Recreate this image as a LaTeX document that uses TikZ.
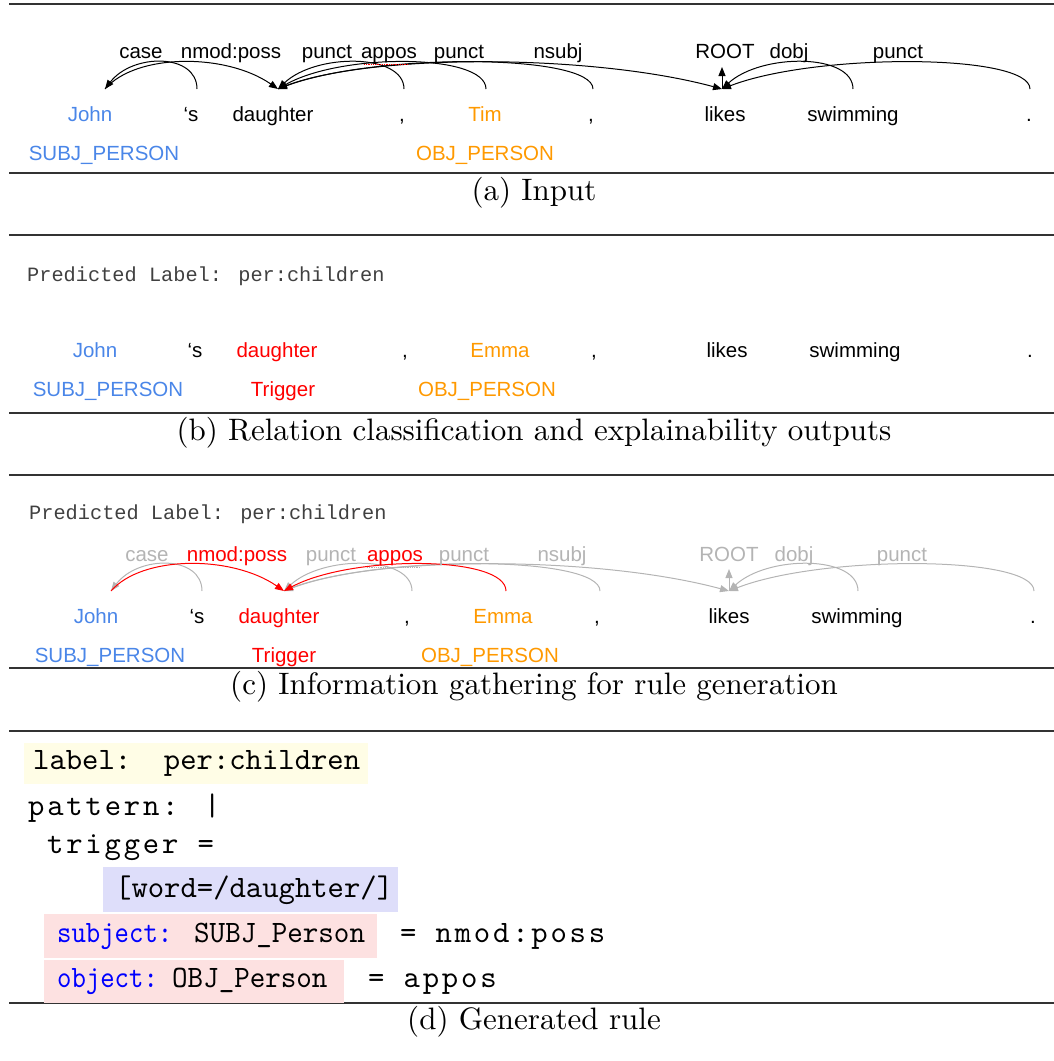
\documentclass[tikz,border=0pt]{standalone}
\usepackage{fontspec}
\usepackage{graphicx}
\usetikzlibrary{arrows.meta,calc}
\newfontfamily\arialfont{Liberation Sans}
\newfontfamily\courfont{Liberation Mono}
\newfontfamily\spacedtt[LetterSpace=9]{Latin Modern Mono}
\definecolor{subjblue}{HTML}{4A86E8}
\definecolor{objorange}{HTML}{FF9900}
\definecolor{trigred}{HTML}{FF0000}
\definecolor{arcgray}{HTML}{B4B4B4}
\definecolor{labelyellow}{HTML}{FFFDE6}
\definecolor{patblue}{HTML}{DEDEFA}
\definecolor{rolepink}{HTML}{FDE1E1}
\definecolor{rulegray}{HTML}{333333}

% leftward dependency arc: rises vertically from the dependent, lands on the head
\newcommand\deparc[3][]{\draw[arc,#1] (#2) .. controls ($(#2)+(0,-36)$) and ($(#3)!0.3!(#2)+(0,-36)$) .. (#3);}
% rightward dependency arc: both ends slanted
\newcommand\deparcR[3][]{\draw[arc,#1] (#2) .. controls ($(#2)!0.18!(#3)+(0,-36)$) and ($(#3)!0.3!(#2)+(0,-36)$) .. (#3);}
% caption and code text, set at 10pt and enlarged
\newcommand\capt[1]{\scalebox{3.1}{\fontsize{10}{12}\selectfont #1}}
\newcommand\codett[1]{\scalebox{3.114}{\fontsize{10}{12}\selectfont\ttfamily #1}}
\newcommand\codesp[1]{\scalebox{3.114}{\fontsize{10}{12}\selectfont\spacedtt #1}}

\begin{document}
\begin{tikzpicture}[x=1pt,y=-1pt,
  word/.style={font=\arialfont\fontsize{20.5}{24}\selectfont, anchor=base, inner sep=0pt},
  deplabel/.style={word},
  caption/.style={anchor=base, inner sep=0pt},
  predlabel/.style={font=\courfont\fontsize{20.3}{24}\selectfont, anchor=base west, inner sep=0pt, text=black!75},
  rulerow/.style={line width=1.3pt, draw=rulegray},
  arc/.style={line width=1pt, -{Triangle[length=9pt,width=7pt]}},
  code/.style={anchor=base west, inner sep=0pt}
]
\useasboundingbox (0,0) rectangle (1054,1061);

% ---------- horizontal rules ----------
\foreach \yy in {4,173,235,413,475,668,731,1003}
  \draw[rulerow] (9,\yy) -- (1054,\yy);

% ================= (a) Input =================
\node[word] (aw1) at (90,121) {\textcolor{subjblue}{John}};
\node[word] (aw2) at (191,121) {‘s};
\node[word] (aw3) at (273,121) {daughter};
\node[word] (aw4) at (402,121) {,};
\node[word] (aw5) at (485,121) {\textcolor{objorange}{Tim}};
\node[word] (aw6) at (591,121) {,};
\node[word] (aw7) at (725,121) {likes};
\node[word] (aw8) at (853,121) {swimming};
\node[word] (aw9) at (1029,121) {.};
\node[word, text=subjblue] (aent1) at (104,160) {SUBJ\_PERSON};
\node[word, text=objorange] (aent2) at (485,160) {OBJ\_PERSON};

\coordinate (a-john) at (105,89);
\coordinate (a-s) at (197,89);
\coordinate (a-dau) at (278,89);
\coordinate (a-c1) at (404,89);
\coordinate (a-tim) at (486,89);
\coordinate (a-c2) at (593,89);
\coordinate (a-likes) at (722,89);
\coordinate (a-root) at (722,67);
\coordinate (a-swim) at (853,89);
\coordinate (a-dot) at (1030,89);

\deparc{a-s}{a-john}
\deparcR{a-john}{a-dau}
\deparc{a-c1}{a-dau}
\deparc{a-tim}{a-dau}
\deparc{a-c2}{a-dau}
\deparcR{a-dau}{a-likes}
\deparc{a-swim}{a-likes}
\deparc{a-dot}{a-likes}
\draw[arc] (a-likes) -- (a-root);
\draw[red, densely dotted, line width=0.8pt] (364,64) -- (408,64);

\node[deplabel] (al1) at (141,58) {case};
\node[deplabel] (al2) at (231,58) {nmod:poss};
\node[deplabel] (al3) at (327,58) {punct};
\node[deplabel] (al4) at (389,58) {appos};
\node[deplabel] (al5) at (459,58) {punct};
\node[deplabel] (al6) at (558,58) {nsubj};
\node[deplabel] (al7) at (725,58) {ROOT};
\node[deplabel] (al8) at (789,58) {dobj};
\node[deplabel] (al9) at (898,58) {punct};

\node[caption] (capa) at (534,200) {\capt{(a) Input}};

% ================= (b) Classification output =================
\node[predlabel] (bpred) at (27,281) {Predicted Label: per:children};
\node[word] (bw1) at (95,357) {\textcolor{subjblue}{John}};
\node[word] (bw2) at (195,357) {‘s};
\node[word] (bw3) at (277,357) {\textcolor{trigred}{daughter}};
\node[word] (bw4) at (405,357) {,};
\node[word] (bw5) at (500,357) {\textcolor{objorange}{Emma}};
\node[word] (bw6) at (594,357) {,};
\node[word] (bw7) at (727,357) {likes};
\node[word] (bw8) at (855,357) {swimming};
\node[word] (bw9) at (1030,357) {.};
\node[word, text=subjblue] (bent1) at (108,396) {SUBJ\_PERSON};
\node[word, text=trigred] (bent2) at (283,396) {Trigger};
\node[word, text=objorange] (bent3) at (487,396) {OBJ\_PERSON};

\node[caption] (capb) at (534,440) {\capt{(b) Relation classification and explainability outputs}};

% ================= (c) Information gathering =================
\node[predlabel] (cpred) at (29,519) {Predicted Label: per:children};
\node[word] (cw1) at (96,623) {\textcolor{subjblue}{John}};
\node[word] (cw2) at (197,623) {‘s};
\node[word] (cw3) at (279,623) {\textcolor{trigred}{daughter}};
\node[word] (cw4) at (407,623) {,};
\node[word] (cw5) at (503,623) {\textcolor{objorange}{Emma}};
\node[word] (cw6) at (597,623) {,};
\node[word] (cw7) at (729,623) {likes};
\node[word] (cw8) at (857,623) {swimming};
\node[word] (cw9) at (1033,623) {.};
\node[word, text=subjblue] (cent1) at (110,662) {SUBJ\_PERSON};
\node[word, text=trigred] (cent2) at (284,662) {Trigger};
\node[word, text=objorange] (cent3) at (490,662) {OBJ\_PERSON};

\coordinate (c-john) at (111,591);
\coordinate (c-s) at (202,591);
\coordinate (c-dau) at (284,591);
\coordinate (c-c1) at (412,591);
\coordinate (c-emma) at (506,591);
\coordinate (c-c2) at (600,591);
\coordinate (c-likes) at (729,591);
\coordinate (c-root) at (729,569);
\coordinate (c-swim) at (858,591);
\coordinate (c-dot) at (1034,591);

\deparc[arcgray]{c-s}{c-john}
\deparc[arcgray]{c-c1}{c-dau}
\deparc[arcgray]{c-c2}{c-dau}
\deparcR[arcgray]{c-dau}{c-likes}
\deparc[arcgray]{c-swim}{c-likes}
\deparc[arcgray]{c-dot}{c-likes}
\draw[arc, arcgray] (c-likes) -- (c-root);
\draw[arcgray, densely dotted, line width=0.8pt] (367,567) -- (421,567);
\deparcR[trigred]{c-john}{c-dau}
\deparc[trigred]{c-emma}{c-dau}

\node[deplabel, text=arcgray] (cl1) at (147,561) {case};
\node[deplabel, text=trigred] (cl2) at (237,561) {nmod:poss};
\node[deplabel, text=arcgray] (cl3) at (331,561) {punct};
\node[deplabel, text=trigred] (cl4) at (395,561) {appos};
\node[deplabel, text=arcgray] (cl5) at (464,561) {punct};
\node[deplabel, text=arcgray] (cl6) at (562,561) {nsubj};
\node[deplabel, text=arcgray] (cl7) at (729,561) {ROOT};
\node[deplabel, text=arcgray] (cl8) at (794,561) {dobj};
\node[deplabel, text=arcgray] (cl9) at (902,561) {punct};

\node[caption] (capc) at (534,694) {\capt{(c) Information gathering for rule generation}};

% ================= (d) Generated rule =================
\fill[labelyellow] (24,743) rectangle (368,784);
\fill[patblue] (103,867) rectangle (398,912);
\fill[rolepink] (44,914) rectangle (377,958);
\fill[rolepink] (44,960) rectangle (344,1003);

\node[code] (dlabel) at (33,769) {\codett{label:\ \ per:children}};
\node[code] (dpat) at (28,815) {\codesp{pattern: |}};
\node[code] (dtrig) at (47,853) {\codesp{trigger =}};
\node[code] (dword) at (115,897) {\codett{[word=/daughter/]}};
\node[code, text=blue] (dsubj) at (57,942) {\scalebox{0.88}[1]{\codett{subject:}}};
\node[code] (dsubjent) at (194,942) {\scalebox{0.95}[1]{\codett{SUBJ\_Person}}};
\node[code] (dsubjrel) at (400,942) {\codesp{= nmod:poss}};
\node[code, text=blue] (dobj) at (57,987) {\scalebox{0.88}[1]{\codett{object:}}};
\node[code] (dobjent) at (172,987) {\scalebox{0.95}[1]{\codett{OBJ\_Person}}};
\node[code] (dobjrel) at (368,987) {\codesp{= appos}};

\node[caption] (capd) at (534,1029) {\capt{(d) Generated rule}};
\end{tikzpicture}
\end{document}
